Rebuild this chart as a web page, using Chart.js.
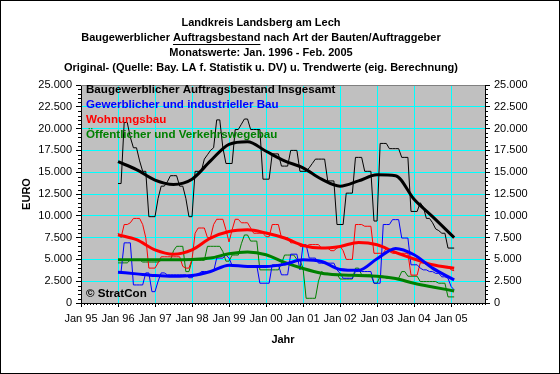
<!DOCTYPE html>
<html>
<head>
<meta charset="utf-8">
<script src="https://cdn.jsdelivr.net/npm/chart.js@4.4.1/dist/chart.umd.min.js"></script>
<style>
  html, body { margin: 0; padding: 0; background: #fff; }
  canvas { display: block; }
</style>
</head>
<body>
<canvas id="myChart" width="560" height="374"></canvas>
<script>
// months are counted from Jan 95 (= 0); monthly values start Jan 96
const firstMonth = 12;

// Monatswerte Jan. 1996 - Feb. 2005 (EURO)
const insgesamt = [
  13700, 13700, 20700, 20700, 19000, 17800, 17800, 16300, 15100, 15100, 9900, 9900,
  9900, 12000, 13400, 13400, 13900, 14600, 14600, 14600, 13400, 13400, 12000, 9900,
  9900, 15100, 15100, 15100, 16500, 17000, 17500, 17800, 21000, 21000, 17800, 16000,
  16000, 16000, 19900, 19900, 20500, 21100, 21100, 19900, 19900, 19900, 19900, 14200,
  14200, 14200, 17100, 17100, 17100, 15700, 15700, 15700, 17500, 17500, 17500, 15100,
  15100, 15100, 15500, 16000, 16500, 16500, 16500, 16500, 14000, 14000, 14000, 9000,
  9000, 9000, 12600, 12600, 12600, 16700, 16700, 16700, 15100, 15100, 15100, 9400,
  9400, 18300, 18300, 18300, 17700, 17700, 17700, 17700, 16700, 16700, 16700, 10500,
  10500, 10500, 11500, 11000, 9700, 9700, 9200, 8500, 8300, 8000, 8000, 6300,
  6300, 6300
];
const gewerblich = [
  3600, 3600, 6900, 6900, 6900, 2070, 2070, 2070, 2070, 3450, 3450, 1300,
  1300, 2500, 3450, 3450, 3230, 3230, 3230, 3230, 3230, 3230, 3230, 2900,
  2900, 3230, 3230, 3610, 3610, 3610, 3610, 3610, 5150, 5150, 5150, 5500,
  5150, 4300, 4300, 4300, 4300, 4300, 4300, 4300, 4300, 4300, 2270, 2270,
  2270, 2270, 4380, 4380, 4380, 3230, 3230, 3230, 5600, 5600, 5600, 3800,
  6680, 6680, 5150, 5150, 5150, 4570, 4570, 4570, 4570, 4570, 4570, 3800,
  3400, 2840, 2840, 2840, 2840, 3610, 3610, 3610, 3610, 3610, 3610, 2270,
  2270, 2270, 9000, 9000, 9000, 9560, 9560, 9560, 7450, 7450, 7450, 4380,
  4380, 4380, 4000, 3800, 3800, 3600, 3600, 3400, 3400, 3000, 3000, 2840,
  1900, 1500
];
const wohnungsbau = [
  8000, 7500, 9000, 9000, 9200, 9700, 9700, 9700, 9000, 7500, 4000, 4000,
  4000, 4600, 5300, 5300, 5300, 5300, 5300, 5300, 5300, 4200, 4000, 4000,
  5000, 8000, 8600, 8600, 8600, 7500, 7500, 9000, 9600, 9600, 9600, 8400,
  7000, 8400, 9600, 9600, 9200, 9200, 9200, 8600, 8000, 8000, 8000, 8000,
  7600, 7600, 9000, 9000, 9000, 7500, 7500, 7500, 6900, 6900, 6900, 6500,
  6500, 6500, 6700, 6700, 6700, 6700, 6300, 6300, 6300, 6000, 6000, 6300,
  6500, 6000, 5000, 5000, 5000, 9000, 9000, 9000, 8800, 8800, 8800, 5700,
  5700, 5700, 5700, 6300, 5900, 5700, 5700, 5700, 5700, 5700, 5700, 3200,
  3200, 3200, 4600, 4600, 4400, 4400, 4400, 4400, 4200, 4200, 4200, 4200,
  3800, 3700
];
const oeffentlich = [
  4600, 4600, 4600, 4600, 4950, 4950, 4950, 4950, 4700, 4700, 4700, 4700,
  4700, 4700, 4900, 4900, 4900, 4900, 6000, 6500, 6500, 6500, 3600, 3600,
  4900, 4900, 4900, 4900, 4900, 6500, 6500, 6500, 6500, 6500, 5900, 4800,
  4800, 5500, 5500, 5500, 6800, 7800, 7800, 7100, 7100, 7100, 3800, 3800,
  3800, 3800, 3800, 3800, 3800, 4500, 5500, 5500, 5500, 5500, 5000, 4900,
  4000, 540, 540, 540, 540, 2500, 3600, 3400, 3400, 3300, 3300, 3300,
  2750, 2750, 2750, 2750, 2750, 4000, 4000, 3230, 3230, 3230, 3230, 2270,
  2270, 3070, 3070, 2840, 2840, 2840, 2840, 2840, 3600, 3600, 3070, 3070,
  3070, 3070, 2460, 2460, 2460, 2460, 2460, 2460, 2270, 2270, 2270, 700,
  700, 700
];

// Trendwerte (eig. Berechnung)
const trendMonths = [12, 18, 24, 30, 36, 42, 48, 54, 60, 66, 72, 78, 84, 90, 96, 102, 108, 114, 121];
const trendInsgesamt = [16200, 15300, 14100, 13600, 14200, 16300, 18200, 18500, 17400, 16300, 15500, 14200, 13400, 14000, 14700, 14600, 11900, 9900, 7500];
const trendGewerblich = [3530, 3340, 3150, 3070, 3150, 3610, 4340, 4190, 4190, 4450, 4950, 4760, 3850, 3750, 5070, 6250, 5530, 4000, 2650];
const trendWohnungsbau = [7830, 7260, 6100, 5600, 6100, 7450, 8200, 8400, 8030, 7450, 6600, 6300, 6490, 6950, 6680, 5800, 5050, 4380, 3990];
const trendOeffentlich = [4950, 4950, 4950, 4950, 5000, 5150, 5650, 5850, 5530, 4650, 3950, 3420, 3230, 3150, 3070, 2800, 2270, 1840, 1380];

const xTickMonths = [0, 12, 24, 36, 48, 60, 72, 84, 96, 108, 120];
const xTickLabels = ['Jan 95', 'Jan 96', 'Jan 97', 'Jan 98', 'Jan 99', 'Jan 00', 'Jan 01', 'Jan 02', 'Jan 03', 'Jan 04', 'Jan 05'];

const seriesNames = ['Baugewerblicher Auftragsbestand Insgesamt', 'Gewerblicher und industrieller Bau', 'Wohnungsbau', 'Öffentlicher und Verkehrswegebau'];
const seriesColors = ['#000000', '#0000ff', '#ff0000', '#008000'];

const titleLines = [
  ['Landkreis Landsberg am Lech'],
  ['Baugewerblicher ', 'Auftragsbestand', ' nach Art der Bauten/Auftraggeber'],
  ['Monatswerte: Jan. 1996 - Feb. 2005'],
  ['Original- (Quelle: Bay. LA f. Statistik u. DV) u. Trendwerte (eig. Berechnung)']
];

Chart.defaults.font.family = '"Liberation Sans", Arial, sans-serif';
Chart.defaults.font.size = 11;
Chart.defaults.color = '#000';

function fmt(v) {
  return String(v).replace(/\B(?=(\d{3})+(?!\d))/g, '.');
}

function rawSet(k, values) {
  return {
    label: seriesNames[k],
    data: values.map((v, i) => ({ x: firstMonth + i, y: v })),
    borderColor: seriesColors[k],
    borderWidth: 1,
    pointRadius: 0,
    tension: 0,
    order: 2
  };
}

function trendSet(k, values) {
  return {
    label: seriesNames[k] + ' (Trend)',
    data: trendMonths.map((m, i) => ({ x: m, y: values[i] })),
    borderColor: seriesColors[k],
    borderWidth: 3,
    pointRadius: 0,
    cubicInterpolationMode: 'monotone',
    order: 1
  };
}

// background, title, in-plot legend, minor ticks, frame
const decor = {
  id: 'decor',
  beforeDraw(chart) {
    const ctx = chart.ctx, a = chart.chartArea;
    ctx.save();
    ctx.fillStyle = '#fff';
    ctx.fillRect(0, 0, chart.width, chart.height);
    ctx.fillStyle = '#c0c0c0';
    ctx.fillRect(a.left, a.top, a.right - a.left, a.bottom - a.top);
    ctx.restore();
  },
  beforeDatasetsDraw(chart) {
    const ctx = chart.ctx, a = chart.chartArea;
    ctx.save();
    ctx.strokeStyle = '#808080';
    ctx.lineWidth = 1;
    ctx.beginPath();
    ctx.moveTo(a.left, a.top + 0.5);
    ctx.lineTo(a.right, a.top + 0.5);
    ctx.stroke();
    ctx.restore();
  },
  afterDatasetsDraw(chart) {
    const ctx = chart.ctx, a = chart.chartArea;
    const x = chart.scales.x, y = chart.scales.y;
    ctx.save();
    ctx.strokeStyle = '#000';
    ctx.lineWidth = 1;
    ctx.beginPath();
    for (let v = 500; v < 25000; v += 500) {
      if (v % 2500 === 0) continue;
      const py = Math.round(y.getPixelForValue(v)) + 0.5;
      ctx.moveTo(a.left - 3, py); ctx.lineTo(a.left, py);
      ctx.moveTo(a.right, py); ctx.lineTo(a.right + 3, py);
    }
    for (let m = 1; m <= 131; m++) {
      if (m % 12 === 0) continue;
      const px = Math.round(x.getPixelForValue(m)) + 0.5;
      ctx.moveTo(px, a.bottom); ctx.lineTo(px, a.bottom + 2);
    }
    ctx.stroke();

    ctx.font = 'bold 11.6px "Liberation Sans", Arial, sans-serif';
    ctx.textAlign = 'left';
    ctx.textBaseline = 'middle';
    seriesNames.forEach((name, k) => {
      ctx.fillStyle = seriesColors[k];
      ctx.fillText(name, a.left + 5, a.top + 5 + k * 15);
    });
    ctx.fillStyle = '#000';
    ctx.fillText('© StratCon', a.left + 5, a.bottom - 9);
    ctx.restore();
  },
  afterDraw(chart) {
    const ctx = chart.ctx;
    ctx.save();
    ctx.font = 'bold 11px "Liberation Sans", Arial, sans-serif';
    ctx.fillStyle = '#000';
    ctx.strokeStyle = '#000';
    ctx.textAlign = 'left';
    ctx.textBaseline = 'middle';
    const cx = 261;
    titleLines.forEach((parts, li) => {
      const ty = 23 + li * 15;
      const total = parts.reduce((s, p) => s + ctx.measureText(p).width, 0);
      let px = cx - total / 2;
      parts.forEach((p, pi) => {
        const w = ctx.measureText(p).width;
        ctx.fillText(p, px, ty);
        if (li === 1 && pi === 1) {
          ctx.beginPath();
          ctx.moveTo(px, ty + 6.5);
          ctx.lineTo(px + w, ty + 6.5);
          ctx.stroke();
        }
        px += w;
      });
    });
    ctx.lineWidth = 1;
    ctx.strokeRect(0.5, 0.5, chart.width - 1, chart.height - 1);
    ctx.restore();
  }
};

const ctx = document.getElementById('myChart');
const chart = new Chart(ctx, {
  type: 'line',
  data: {
    datasets: [
      trendSet(0, trendInsgesamt),
      trendSet(1, trendGewerblich),
      trendSet(2, trendWohnungsbau),
      trendSet(3, trendOeffentlich),
      rawSet(0, insgesamt),
      rawSet(1, gewerblich),
      rawSet(2, wohnungsbau),
      rawSet(3, oeffentlich)
    ]
  },
  options: {
    responsive: false,
    animation: false,
    devicePixelRatio: 1,
    layout: { padding: { top: 85, left: 0, right: 0, bottom: 0 } },
    plugins: {
      legend: { display: false },
      tooltip: { enabled: false },
      title: { display: false }
    },
    scales: {
      x: {
        type: 'linear',
        position: 'bottom',
        min: 0,
        max: 131,
        afterBuildTicks: s => { s.ticks = xTickMonths.map(v => ({ value: v })); },
        afterFit: s => { s.height = 71; },
        grid: { color: '#00ffff', lineWidth: 1, tickColor: '#000', tickLength: 4 },
        border: { color: '#000', width: 1 },
        ticks: {
          padding: 5,
          maxRotation: 0,
          autoSkip: false,
          callback: (v, i) => xTickLabels[i]
        },
        title: {
          display: true,
          text: 'Jahr',
          font: { weight: 'bold', size: 11 },
          padding: { top: 0, bottom: 27 }
        }
      },
      y: {
        position: 'left',
        min: 0,
        max: 25000,
        afterFit: s => { s.width = 81; },
        grid: { color: '#00ffff', lineWidth: 1, tickColor: '#000', tickLength: 5 },
        border: { color: '#000', width: 1 },
        ticks: { stepSize: 2500, padding: 4, callback: v => fmt(v) },
        title: {
          display: true,
          text: 'EURO',
          font: { weight: 'bold', size: 11 },
          padding: { top: 20, bottom: 0 }
        }
      },
      y2: {
        position: 'right',
        min: 0,
        max: 25000,
        afterFit: s => { s.width = 75; },
        grid: { drawOnChartArea: false, tickColor: '#000', tickLength: 5 },
        border: { color: '#000', width: 1 },
        ticks: { stepSize: 2500, padding: 4, callback: v => fmt(v) }
      }
    }
  },
  plugins: [decor]
});
</script>
</body>
</html>
